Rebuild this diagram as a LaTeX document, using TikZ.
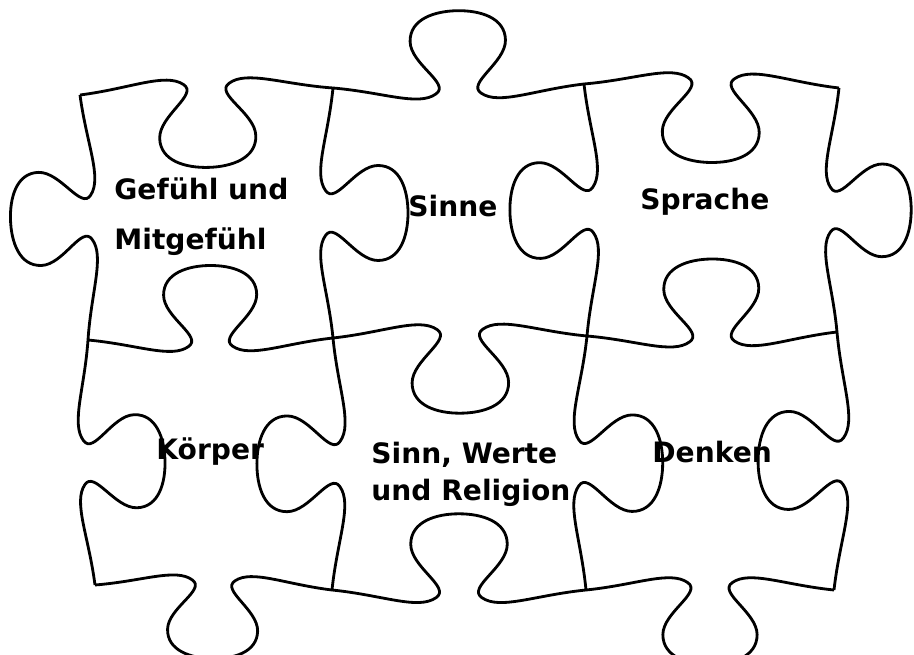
\documentclass[tikz,border=0pt]{standalone}
\usepackage{fontspec}
\setmainfont{DejaVu Sans}

% one puzzle edge from (#1,#2) to (#3,#4), tab on side #5 (+1 left of travel, -1 right)
\newcommand\jig[5]{%
  \pgfmathsetmacro\ja{#3-#1}%
  \pgfmathsetmacro\jb{#2-#4}%
  \pgfmathsetmacro\jc{-(#5)*(#4-#2)}%
  \pgfmathsetmacro\jd{-(#5)*(#3-#1)}%
  \draw[cm={\ja,\jb,\jc,\jd,(#1,#2)}] (0,0) .. controls (0.2,-0.02) and (0.34,-0.08) .. (0.41,-0.03)
    .. controls (0.47,0.01) and (0.31,0.09) .. (0.31,0.18)
    .. controls (0.31,0.27) and (0.41,0.3) .. (0.5,0.3)
    .. controls (0.59,0.3) and (0.69,0.27) .. (0.69,0.18)
    .. controls (0.69,0.09) and (0.53,0.01) .. (0.59,-0.03)
    .. controls (0.66,-0.08) and (0.8,-0.02) .. (1,0);}

\begin{document}
\begin{tikzpicture}[x=0.02cm, y=-0.02cm, line width=1.6pt, line join=round,
  lbl/.style={font=\bfseries\fontsize{16}{19}\selectfont, anchor=base west, inner sep=0pt}]
\useasboundingbox (0,0) rectangle (914,655);

% rows of edges
\jig{80}{95}{333}{88}{-1} \jig{333}{88}{584}{84}{1} \jig{584}{84}{839}{88}{-1}
\jig{88}{340}{333}{338}{1} \jig{333}{338}{587}{336}{-1} \jig{587}{336}{837}{332}{1}
\jig{95}{585}{332}{590}{-1} \jig{332}{590}{586}{590}{1} \jig{586}{590}{834}{590}{-1}
% columns of edges
\jig{80}{95}{88}{340}{-1} \jig{333}{88}{333}{338}{1} \jig{584}{84}{587}{336}{-1} \jig{839}{88}{837}{332}{1}
\jig{88}{340}{95}{585}{1} \jig{333}{338}{332}{590}{-1} \jig{587}{336}{586}{590}{1} \jig{837}{332}{834}{590}{-1}

\node[lbl] (gefuehl) at (113,200) {Gefühl und};
\node[lbl] (mitgefuehl) at (113,250) {Mitgefühl};
\node[lbl] (sinne) at (407,217) {Sinne};
\node[lbl] (sprache) at (639,210) {Sprache};
\node[lbl] (koerper) at (155,460) {Körper};
\node[lbl] (sinn) at (370,464) {Sinn, Werte};
\node[lbl] (religion) at (370,501) {und Religion};
\node[lbl] (denken) at (651,463) {Denken};

\end{tikzpicture}
\end{document}
